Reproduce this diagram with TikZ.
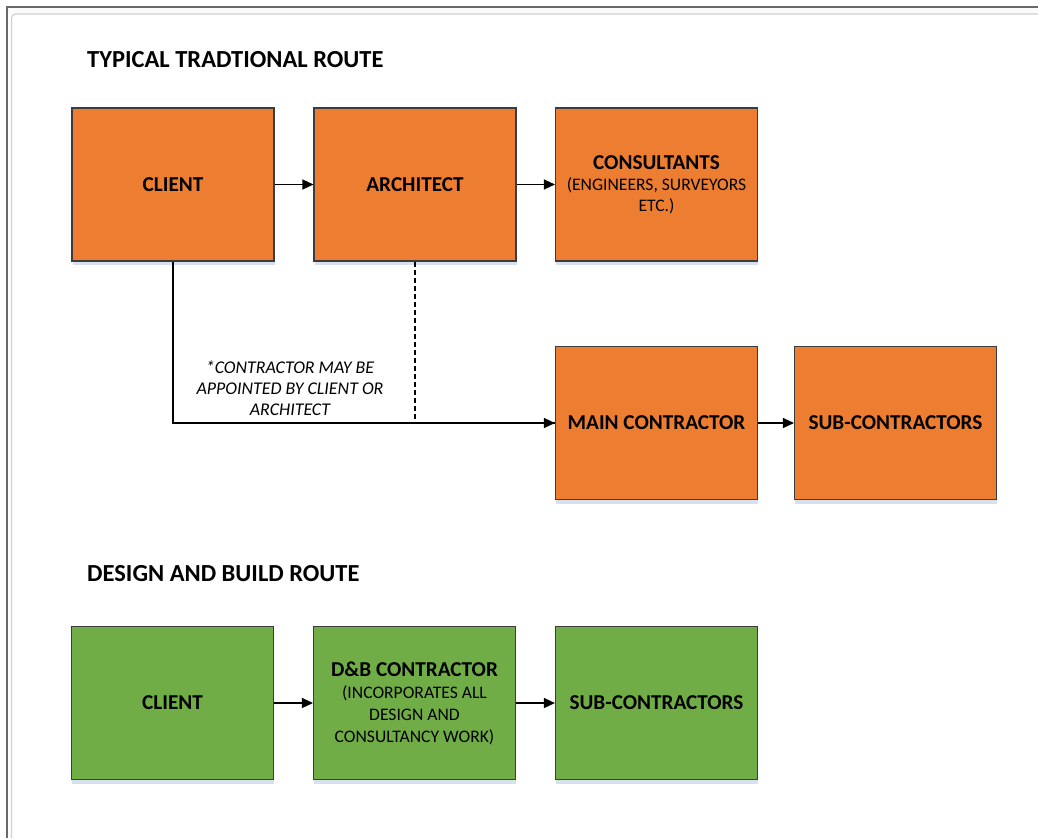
\documentclass[tikz,border=0pt]{standalone}
\usepackage{fontspec}
\setmainfont{Carlito}
\frenchspacing
\usetikzlibrary{arrows.meta,shadows}
\definecolor{boxorange}{RGB}{237,125,49}
\definecolor{boxgreen}{RGB}{112,173,71}
\definecolor{boxedge}{RGB}{60,60,60}
\definecolor{shadowblue}{RGB}{214,224,238}
\definecolor{frameouter}{RGB}{105,105,105}
\definecolor{frameinner}{RGB}{208,208,208}
\newcommand{\headfont}{\fontsize{21.2}{24}\selectfont\bfseries}
\newcommand{\subfont}{\fontsize{17.6}{22}\selectfont}
\newcommand{\titlefont}{\fontsize{24.5}{28}\selectfont\bfseries}
\tikzset{
  stagebox/.style={draw=boxedge, line width=1.1pt, minimum width=202pt,
    minimum height=153pt, inner sep=2pt, align=center,
    font=\subfont,
    drop shadow={fill=shadowblue, opacity=1, shadow xshift=0.5pt, shadow yshift=-4pt}},
  tradbox/.style={stagebox, fill=boxorange},
  dbbox/.style={stagebox, fill=boxgreen},
  flow/.style={line width=1.3pt, -{Triangle[length=11pt,width=10pt]}},
  maybeflow/.style={line width=1.3pt, dash pattern=on 5pt off 3pt},
  heading/.style={anchor=west, inner sep=0pt, font=\titlefont},
}
\begin{document}
\begin{tikzpicture}[x=1pt,y=-1pt]
\useasboundingbox (0,0) rectangle (1038,838);
% page frame
\fill[white] (0,0) rectangle (1038,838);
\fill[black!2] (8,8) rectangle (1038,14);
\draw[frameinner, line width=1.2pt, rounded corners=4pt] (11.5,838) -- (11.5,14) -- (1038,14);
\draw[frameouter, line width=2pt] (7,838) -- (7,7) -- (1038,7);

% traditional route
\node[heading] (tradtitle) at (87,60) {TYPICAL TRADTIONAL ROUTE};
\node[tradbox] (client) at (173,184.5) {\headfont CLIENT};
\node[tradbox] (arch) at (415,184.5) {\headfont ARCHITECT};
\node[tradbox, font=\fontsize{17.6}{21}\selectfont] (cons) at (656.5,184.5)
  {{\headfont CONSULTANTS}\\(ENGINEERS, SURVEYORS\\ETC.)};
\node[tradbox] (main) at (656.5,423) {\headfont MAIN CONTRACTOR};
\node[tradbox] (subs) at (895.5,423) {\headfont SUB-CONTRACTORS};

\draw[flow] (client) -- (arch);
\draw[flow] (arch) -- (cons);
\draw[flow] (client.south) |- (main.west);
\draw[maybeflow] (arch.south) |- (main.west);
\draw[flow] (main) -- (subs);

\node[font=\fontsize{17.9}{21}\selectfont\itshape, align=center, inner sep=0pt] (note) at (290,388)
  {*CONTRACTOR MAY BE\\APPOINTED BY CLIENT OR\\ARCHITECT};

% design and build route
\node[heading] (dbtitle) at (87,574) {DESIGN AND BUILD ROUTE};
\node[dbbox] (dbclient) at (172.5,703) {\headfont CLIENT};
\node[dbbox] (dbcon) at (414.5,703)
  {{\headfont D\&B CONTRACTOR}\\(INCORPORATES ALL\\DESIGN AND\\CONSULTANCY WORK)};
\node[dbbox] (dbsubs) at (656.5,703) {\headfont SUB-CONTRACTORS};

\draw[flow] (dbclient) -- (dbcon);
\draw[flow] (dbcon) -- (dbsubs);
\end{tikzpicture}
\end{document}
